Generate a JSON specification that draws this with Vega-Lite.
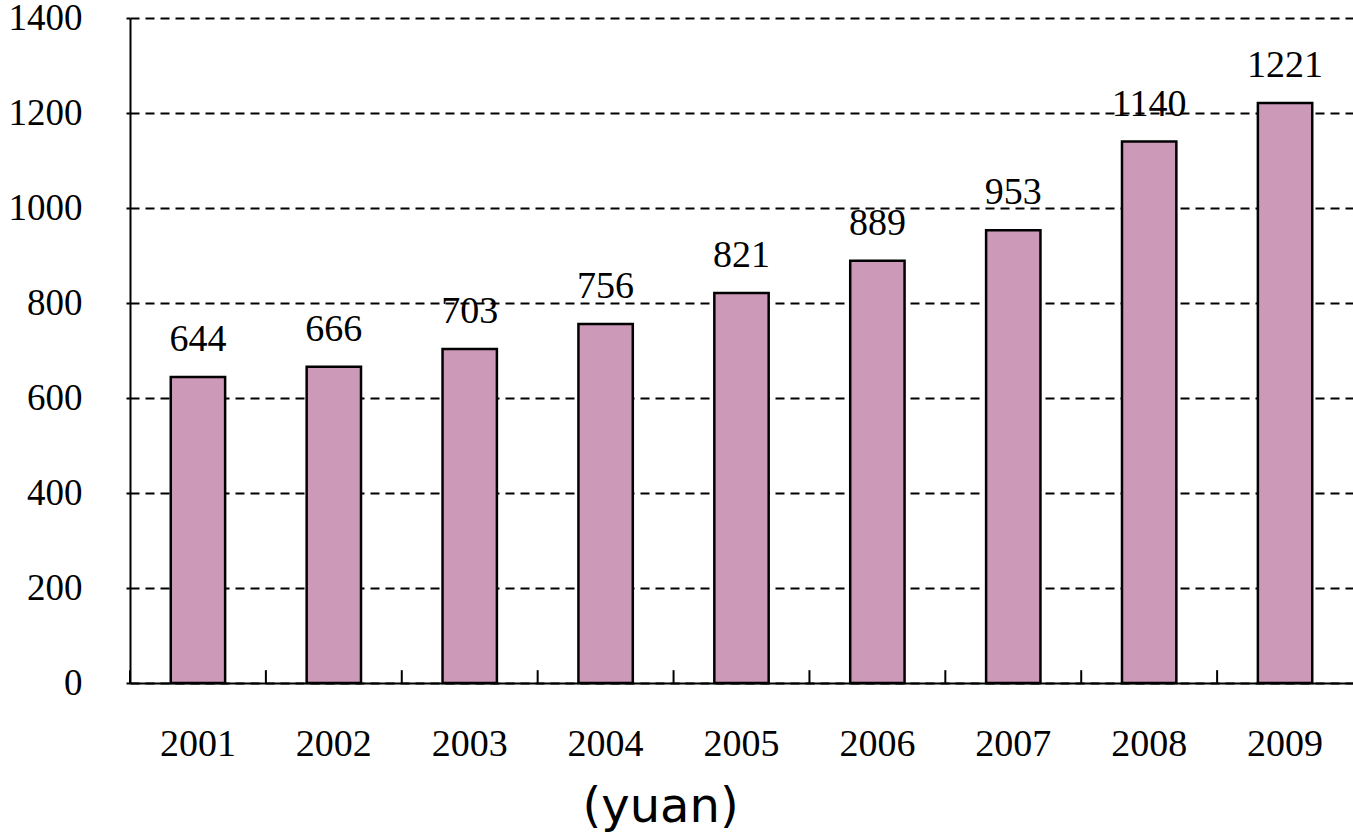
{
  "$schema": "https://vega.github.io/schema/vega-lite/v6.json",
  "width": 1223,
  "height": 665,
  "autosize": {"type": "none"},
  "padding": {"left": 130, "top": 18, "right": 0, "bottom": 149},
  "background": "white",
  "config": {"view": {"stroke": null}},
  "data": {"values": [
    {"year": "2001", "value": 644},
    {"year": "2002", "value": 666},
    {"year": "2003", "value": 703},
    {"year": "2004", "value": 756},
    {"year": "2005", "value": 821},
    {"year": "2006", "value": 889},
    {"year": "2007", "value": 953},
    {"year": "2008", "value": 1140},
    {"year": "2009", "value": 1221}
  ]},
  "encoding": {
    "x": {
      "field": "year", "type": "nominal", "sort": null,
      "scale": {"paddingInner": 0.6, "paddingOuter": 0.3},
      "axis": {
        "title": "(yuan)",
        "titleFont": "DejaVu Sans", "titleFontSize": 48, "titleFontWeight": "normal", "titleColor": "black",
        "titleAnchor": "start", "titleAlign": "left", "titleX": 452, "titleY": 138, "titleBaseline": "alphabetic",
        "labelAngle": 0, "labelFont": "Liberation Serif", "labelFontSize": 38, "labelColor": "black",
        "labelPadding": 42,
        "domainColor": "black", "domainWidth": 2,
        "ticks": false, "tickSize": 0,
        "grid": false
      }
    }
  },
  "layer": [
    {
      "mark": {"type": "bar", "fill": "#CC99B9", "stroke": "black", "strokeWidth": 2.5},
      "encoding": {
        "y": {
          "field": "value", "type": "quantitative",
          "scale": {"domain": [0, 1400], "nice": false},
          "axis": {
            "title": null, "values": [0, 200, 400, 600, 800, 1000, 1200, 1400], "format": "d",
            "labelFont": "Liberation Serif", "labelFontSize": 37, "labelColor": "black",
            "labelPadding": 44, "tickSize": 4, "tickColor": "black", "tickWidth": 2,
            "domainColor": "black", "domainWidth": 2,
            "grid": true, "gridColor": "black", "gridWidth": 2, "gridDash": [9, 6]
          }
        }
      }
    },
    {
      "mark": {"type": "rule", "color": "black", "strokeWidth": 2},
      "encoding": {
        "x": {"field": "year", "type": "nominal", "sort": null, "bandPosition": -0.75},
        "y": {"datum": 0},
        "y2": {"datum": 27}
      }
    },
    {
      "mark": {"type": "text", "font": "Liberation Serif", "fontSize": 38, "color": "black", "baseline": "alphabetic", "dy": -26},
      "encoding": {
        "y": {"field": "value", "type": "quantitative"},
        "text": {"field": "value", "type": "quantitative"}
      }
    }
  ]
}
